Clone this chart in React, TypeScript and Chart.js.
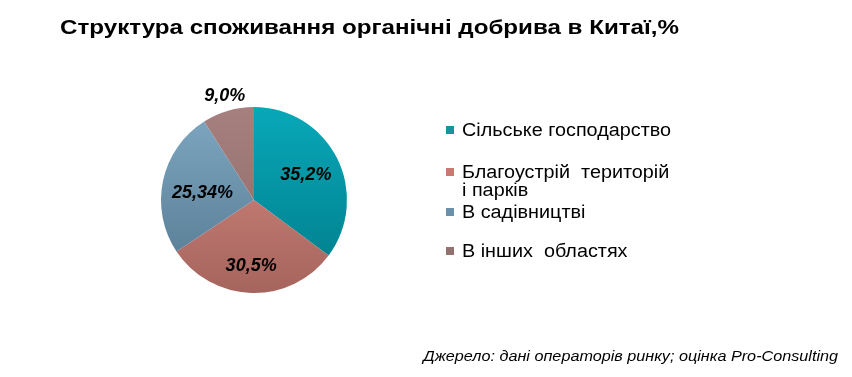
import React, { useEffect, useRef } from "react";
import { Chart, registerables } from "chart.js";

Chart.register(...registerables);

const categories = [
  "Сільське господарство",
  "Благоустрій  територій і парків",
  "В садівництві",
  "В інших  областях",
];
const legendLines = [
  ["Сільське господарство"],
  ["Благоустрій  територій", "і парків"],
  ["В садівництві"],
  ["В інших  областях"],
];
const values = [35.2, 30.5, 25.34, 9.0];
const valueLabels = ["35,2%", "30,5%", "25,34%", "9,0%"];

const title = "Структура споживання органічні добрива в Китаї,%";
const source = "Джерело: дані операторів ринку; оцінка Pro-Consulting";

const lightColors = ["#08A8B9", "#D88C82", "#80A8C2", "#A6807F"];
const darkColors = ["#007B88", "#A5645D", "#53778F", "#8A6868"];
const markerColors = ["#12959F", "#C57A72", "#6B90AB", "#927171"];
const labelRadius = [0.6, 0.74, 0.6, 1.17];
const labelShift = [
  [2, 0],
  [-1, -3],
  [3, 5],
  [1, 1],
];

const labelPlugin = {
  id: "valueLabels",
  afterDatasetsDraw(chart: any) {
    const ctx = chart.ctx;
    const meta = chart.getDatasetMeta(0);
    ctx.save();
    ctx.font = "italic bold 18px 'Liberation Sans', Arial, sans-serif";
    ctx.fillStyle = "#000";
    ctx.textAlign = "center";
    ctx.textBaseline = "middle";
    meta.data.forEach((arc: any, i: number) => {
      const p = arc.getProps(["x", "y", "startAngle", "endAngle", "outerRadius"], true);
      const mid = (p.startAngle + p.endAngle) / 2;
      const r = p.outerRadius * labelRadius[i];
      ctx.fillText(
        valueLabels[i],
        p.x + Math.cos(mid) * r + labelShift[i][0],
        p.y + Math.sin(mid) * r + labelShift[i][1]
      );
    });
    ctx.restore();
  },
};

export default function App() {
  const ref = useRef<HTMLCanvasElement>(null);
  useEffect(() => {
    const canvas = ref.current!;
    const chart = new Chart(canvas, {
      type: "pie",
      data: {
        labels: categories,
        datasets: [
          {
            data: values,
            borderWidth: 0,
            backgroundColor: (c: any) => {
              const area = c.chart.chartArea;
              if (!area) return lightColors[c.dataIndex];
              const g = c.chart.ctx.createLinearGradient(0, area.top, 0, area.bottom);
              g.addColorStop(0, lightColors[c.dataIndex]);
              g.addColorStop(1, darkColors[c.dataIndex]);
              return g;
            },
          },
        ],
      },
      options: {
        responsive: false,
        animation: false,
        layout: { padding: { left: 161, right: 505, top: 107, bottom: 84 } },
        plugins: {
          legend: { display: false },
          title: { display: false },
          tooltip: { enabled: false },
        },
      },
      plugins: [labelPlugin],
    });
    return () => chart.destroy();
  }, []);

  const font = "'Liberation Sans', Arial, sans-serif";
  const legendTops = [121, 163, 203, 242];

  return (
    <div style={{ position: "fixed", left: 0, top: 0, width: 852, height: 377, background: "#fff", fontFamily: font }}>
      <canvas ref={ref} width={852} height={377} style={{ position: "absolute", left: 0, top: 0 }} />
      <div style={{ position: "absolute", left: 60, top: 14, fontSize: 21, fontWeight: "bold", whiteSpace: "nowrap", lineHeight: "26px", color: "#000", transform: "scaleX(1.15)", transformOrigin: "left center" }}>
        {title}
      </div>
      {legendLines.map((lines, i) => (
        <div key={i} style={{ position: "absolute", left: 446, top: legendTops[i], fontSize: 18, lineHeight: "18px", whiteSpace: "pre", color: "#000" }}>
          <div style={{ position: "absolute", left: 0, top: 5, width: 8, height: 8, background: markerColors[i] }} />
          <div style={{ marginLeft: 16, transform: "scaleX(1.1)", transformOrigin: "left center" }}>
            {lines.map((l, j) => (
              <div key={j}>{l}</div>
            ))}
          </div>
        </div>
      ))}
      <div style={{ position: "absolute", right: 14, top: 347, fontSize: 15, fontStyle: "italic", whiteSpace: "nowrap", color: "#000", transform: "scaleX(1.08)", transformOrigin: "right center" }}>
        {source}
      </div>
    </div>
  );
}
